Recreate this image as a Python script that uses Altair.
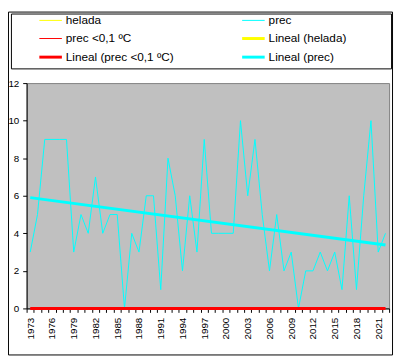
import altair as alt
import pandas as pd

# ---- data ----
years = list(range(1973, 2023))
prec = [3, 5, 9, 9, 9, 9, 3, 5, 4, 7,
        4, 5, 5, 0, 4, 3, 6, 6, 1, 8,
        6, 2, 6, 3, 9, 4, 4, 4, 4, 10,
        6, 9, 5, 2, 5, 2, 3, 0, 2, 2,
        3, 2, 3, 1, 6, 1, 6, 10, 3, 4]
prec_lt01 = [0, 0, 0, 0, 0, 0, 0, 0, 0, 0,
             0, 0, 0, 0, 0, 0, 0, 0, 0, 0,
             0, 0, 0, 0, 0, 0, 0, 0, 0, 0,
             0, 0, 0, 0, 0, 0, 0, 0, 0, 0,
             0, 0, 0, 0, 0, 0, 0, 0, 0, 0]
y_ticks = [0, 2, 4, 6, 8, 10, 12]
legend_labels = ["helada", "prec <0,1 ºC", "Lineal (prec <0,1 ºC)",
                 "prec", "Lineal (helada)", "Lineal (prec)"]
legend_colors = ["#FFFF00", "#FF0000", "#FF0000", "#00FFFF", "#FFFF00", "#00FFFF"]
legend_widths = [1, 1, 3, 1, 3, 3]

df = pd.DataFrame({"year": years, "prec": prec, "prec01": prec_lt01})

FONT = "Liberation Sans"
W, H = 370, 230

x_enc = alt.X(
    "year:Q",
    scale=alt.Scale(domain=[years[0] - 0.5, years[-1] + 0.5], nice=False, zero=False),
    axis=alt.Axis(
        title=None,
        values=[y - 0.5 for y in years] + [years[-1] + 0.5],
        labelExpr="((datum.value + 0.5 - 1973) % 3 == 0) ? toString(datum.value + 0.5) : ''",
        labelAngle=270,
        labelOffset=3.7,
        labelOverlap=False,
        labelFlush=False,
        labelBound=False,
        tickSize=4,
        labelPadding=5,
        grid=False,
    ),
)
y_scale = alt.Scale(domain=[0, 12], nice=False)
y_axis = alt.Axis(title=None, values=y_ticks, tickSize=4, labelPadding=4,
                  grid=False, labelOverlap=False)

base = alt.Chart(df)

prec_line = base.mark_line(color="#00FFFF", strokeWidth=1).encode(
    x=x_enc, y=alt.Y("prec:Q", scale=y_scale, axis=y_axis)
)
prec_trend = base.transform_regression("year", "prec").mark_line(
    color="#00FFFF", strokeWidth=3
).encode(x=x_enc, y=alt.Y("prec:Q", scale=y_scale, axis=y_axis))
red_line = base.mark_line(color="#FF0000", strokeWidth=1).encode(
    x=x_enc, y=alt.Y("prec01:Q", scale=y_scale, axis=y_axis)
)
red_trend = base.transform_regression("year", "prec01").mark_line(
    color="#FF0000", strokeWidth=3
).encode(x=x_enc, y=alt.Y("prec01:Q", scale=y_scale, axis=y_axis))

one = pd.DataFrame({"k": [0]})

# outer frame and legend box (pixel positions relative to plot origin)
frame = alt.Chart(one).mark_rect(fillOpacity=0, stroke="#000000", strokeWidth=1).encode(
    x=alt.value(-18.5), x2=alt.value(373.5), y=alt.value(-72.5), y2=alt.value(277.5)
)
legend_box = alt.Chart(one).mark_rect(fillOpacity=0, stroke="#000000", strokeWidth=1).encode(
    x=alt.value(-15.5), x2=alt.value(372.5), y=alt.value(-70.5), y2=alt.value(-14.5)
)

layers = [frame, legend_box, prec_line, prec_trend, red_line, red_trend]

col_line_x = [13, 220]
col_text_x = [40, 247]
row_y = [-64, -45.5, -26.5]
for i, (lab, colr, wdt) in enumerate(zip(legend_labels, legend_colors, legend_widths)):
    c, r = divmod(i, 3)
    ld = pd.DataFrame({"label": [lab]})
    layers.append(
        alt.Chart(ld).mark_rule(color=colr, strokeWidth=wdt).encode(
            x=alt.value(col_line_x[c]), x2=alt.value(col_line_x[c] + 23), y=alt.value(row_y[r])
        )
    )
    layers.append(
        alt.Chart(ld).mark_text(
            align="left", baseline="middle", font=FONT, fontSize=12, color="#000000"
        ).encode(x=alt.value(col_text_x[c]), y=alt.value(row_y[r]), text="label:N")
    )

chart = alt.layer(*layers).properties(
    width=W,
    height=H,
    autosize="none",
    padding={"left": 19, "top": 73, "right": 5, "bottom": 49},
    background="#FFFFFF",
).configure_view(
    fill="#C0C0C0", stroke="#808080", strokeWidth=1
).configure_axis(
    domainColor="#000000",
    tickColor="#000000",
    labelColor="#000000",
    labelFont=FONT,
    labelFontSize=10,
    labelOverlap=False,
    domainWidth=1,
    tickWidth=1,
)

chart.save("out.html", embed_options={"renderer": "svg", "actions": False})
